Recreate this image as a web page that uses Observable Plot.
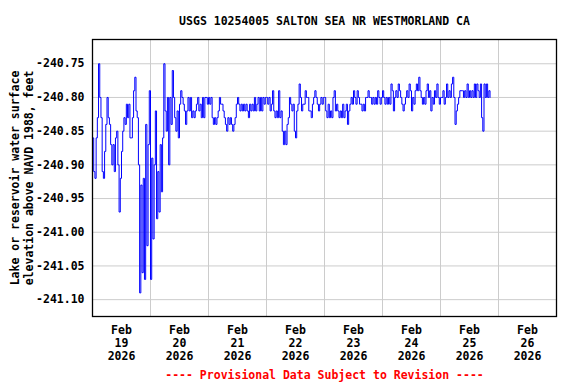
<!DOCTYPE html>
<html>
<head>
<meta charset="utf-8">
<script src="https://cdn.jsdelivr.net/npm/d3@7"></script>
<script src="https://cdn.jsdelivr.net/npm/@observablehq/plot@0.6"></script>
<style>
  html, body { margin: 0; padding: 0; background: #fff; }
</style>
</head>
<body>
<div id="chart"></div>
<script>
// Half-hourly lake elevation readings (feet, NAVD 1988), one array per day starting 00:00 UTC
const feb19 = [-240.86,-240.91,-240.92,-240.86,-240.83,-240.75,-240.80,-240.83,-240.91,-240.92,-240.88,-240.84,
               -240.80,-240.83,-240.84,-240.87,-240.90,-240.87,-240.91,-240.86,-240.85,-240.90,-240.97,-240.92,
               -240.88,-240.85,-240.83,-240.84,-240.81,-240.83,-240.81,-240.86,-240.86,-240.83,-240.79,-240.77,
               -240.82,-240.83,-240.90,-241.09,-240.93,-241.06,-240.92,-241.07,-240.84,-241.02,-240.87,-240.79];
const feb20 = [-241.07,-240.89,-241.01,-240.90,-240.82,-240.98,-240.91,-240.97,-240.87,-240.94,-240.86,-240.75,
               -240.82,-240.85,-240.80,-240.90,-240.80,-240.84,-240.76,-240.80,-240.83,-240.85,-240.82,-240.86,
               -240.81,-240.79,-240.80,-240.81,-240.82,-240.84,-240.82,-240.80,-240.82,-240.80,-240.83,-240.82,
               -240.83,-240.82,-240.81,-240.80,-240.82,-240.81,-240.83,-240.80,-240.83,-240.80,-240.80,-240.81];
const feb21 = [-240.80,-240.81,-240.80,-240.83,-240.84,-240.83,-240.84,-240.83,-240.82,-240.80,-240.81,-240.81,
               -240.82,-240.83,-240.84,-240.85,-240.83,-240.84,-240.83,-240.84,-240.85,-240.84,-240.83,-240.81,
               -240.80,-240.81,-240.82,-240.81,-240.82,-240.81,-240.82,-240.81,-240.82,-240.83,-240.81,-240.82,
               -240.81,-240.82,-240.80,-240.82,-240.81,-240.80,-240.82,-240.80,-240.82,-240.80,-240.81,-240.80];
const feb22 = [-240.80,-240.81,-240.80,-240.82,-240.81,-240.79,-240.82,-240.83,-240.82,-240.83,-240.79,-240.83,
               -240.82,-240.85,-240.87,-240.85,-240.87,-240.84,-240.83,-240.80,-240.81,-240.82,-240.81,-240.85,
               -240.86,-240.82,-240.81,-240.78,-240.80,-240.82,-240.81,-240.81,-240.79,-240.80,-240.80,-240.82,
               -240.82,-240.83,-240.81,-240.80,-240.79,-240.80,-240.81,-240.82,-240.81,-240.80,-240.81,-240.80];
const feb23 = [-240.80,-240.82,-240.83,-240.81,-240.83,-240.82,-240.83,-240.80,-240.79,-240.82,-240.81,-240.82,
               -240.83,-240.82,-240.83,-240.81,-240.83,-240.82,-240.81,-240.84,-240.82,-240.81,-240.80,-240.81,
               -240.79,-240.80,-240.81,-240.79,-240.80,-240.81,-240.81,-240.82,-240.81,-240.82,-240.80,-240.80,
               -240.79,-240.80,-240.80,-240.81,-240.80,-240.81,-240.80,-240.81,-240.79,-240.80,-240.81,-240.80];
const feb24 = [-240.79,-240.80,-240.81,-240.80,-240.81,-240.80,-240.81,-240.78,-240.79,-240.82,-240.80,-240.79,
               -240.80,-240.78,-240.79,-240.80,-240.81,-240.82,-240.81,-240.80,-240.79,-240.80,-240.78,-240.79,
               -240.82,-240.80,-240.81,-240.79,-240.78,-240.79,-240.77,-240.79,-240.80,-240.81,-240.80,-240.81,
               -240.79,-240.78,-240.80,-240.79,-240.82,-240.80,-240.81,-240.79,-240.80,-240.78,-240.80,-240.81];
const feb25 = [-240.80,-240.80,-240.79,-240.81,-240.80,-240.78,-240.80,-240.79,-240.80,-240.78,-240.77,-240.80,
               -240.84,-240.82,-240.81,-240.80,-240.79,-240.79,-240.79,-240.80,-240.79,-240.80,-240.78,-240.80,
               -240.79,-240.80,-240.79,-240.80,-240.78,-240.80,-240.78,-240.79,-240.80,-240.78,-240.83,-240.85,
               -240.78,-240.80,-240.78,-240.80,-240.79,-240.80];

const dailySeries = [feb19, feb20, feb21, feb22, feb23, feb24, feb25];
const firstDay = 19;            // February day of first array
const stepMinutes = 30;

const yTicks = [-240.75, -240.80, -240.85, -240.90, -240.95, -241.00, -241.05, -241.10];
const yDomain = [-241.125, -240.714];
const xDays = [19, 20, 21, 22, 23, 24, 25, 26];   // tick label days
const monthLabel = "Feb";
const yearLabel = "2026";

const titleText = "USGS 10254005 SALTON SEA NR WESTMORLAND CA";
const yLabelText = "Lake or reservoir water surface\nelevation above NAVD 1988, feet";
const captionText = "---- Provisional Data Subject to Revision ----";

// Build table
const rows = [];
dailySeries.forEach((arr, d) => {
  arr.forEach((v, j) => {
    rows.push({ t: new Date(Date.UTC(2026, 1, firstDay + d) + j * stepMinutes * 60000), v });
  });
});

const midnights = xDays.map(d => new Date(Date.UTC(2026, 1, d)));
const noons = xDays.map(d => new Date(Date.UTC(2026, 1, d, 12)));

const font = "'DejaVu Sans Mono', 'Liberation Mono', monospace";

const chart = Plot.plot({
  width: 576,
  height: 384,
  marginLeft: 92,
  marginRight: 20,
  marginTop: 39,
  marginBottom: 68,
  style: { fontFamily: font, fontSize: "11.5px", fontWeight: "bold", background: "#fff", color: "#000" },
  x: { type: "utc", domain: [new Date(Date.UTC(2026, 1, 19)), new Date(Date.UTC(2026, 1, 27))] },
  y: { domain: yDomain },
  marks: [
    Plot.gridX(midnights, { stroke: "#cccccc", strokeOpacity: 1, strokeWidth: 1 }),
    Plot.gridY(yTicks, { stroke: "#cccccc", strokeOpacity: 1, strokeWidth: 1 }),
    Plot.line(rows, { x: "t", y: "v", stroke: "#0000ff", strokeWidth: 1, curve: "step-after" }),
    Plot.frame({ stroke: "#000", strokeWidth: 1.3 }),
    Plot.axisY(yTicks, {
      tickSize: 0, tickPadding: 8, label: null,
      tickFormat: d => d.toFixed(2),
      fontWeight: "bold", fontSize: 11.5
    }),
    Plot.axisX(noons, {
      tickSize: 0, tickPadding: 8, label: null,
      tickFormat: d => `${monthLabel}\n${d.getUTCDate()}\n${yearLabel}`,
      lineHeight: 1.13, fontWeight: "bold", fontSize: 11.5
    }),
    Plot.text([titleText], {
      text: d => d, frameAnchor: "top", dy: -23, fontSize: 11.5, fontWeight: "bold", fill: "#000"
    }),
    Plot.text([captionText], {
      text: d => d, frameAnchor: "bottom", dy: 62, fontSize: 11.5, fontWeight: "bold", fill: "#ff0000"
    }),
    Plot.text([yLabelText], {
      text: d => d, frameAnchor: "left", dx: -71, rotate: -90, lineHeight: 1.2,
      textAnchor: "middle", lineAnchor: "middle",
      fontSize: 11.5, fontWeight: "bold", fill: "#000"
    })
  ]
});

document.getElementById("chart").appendChild(chart);
</script>
</body>
</html>
